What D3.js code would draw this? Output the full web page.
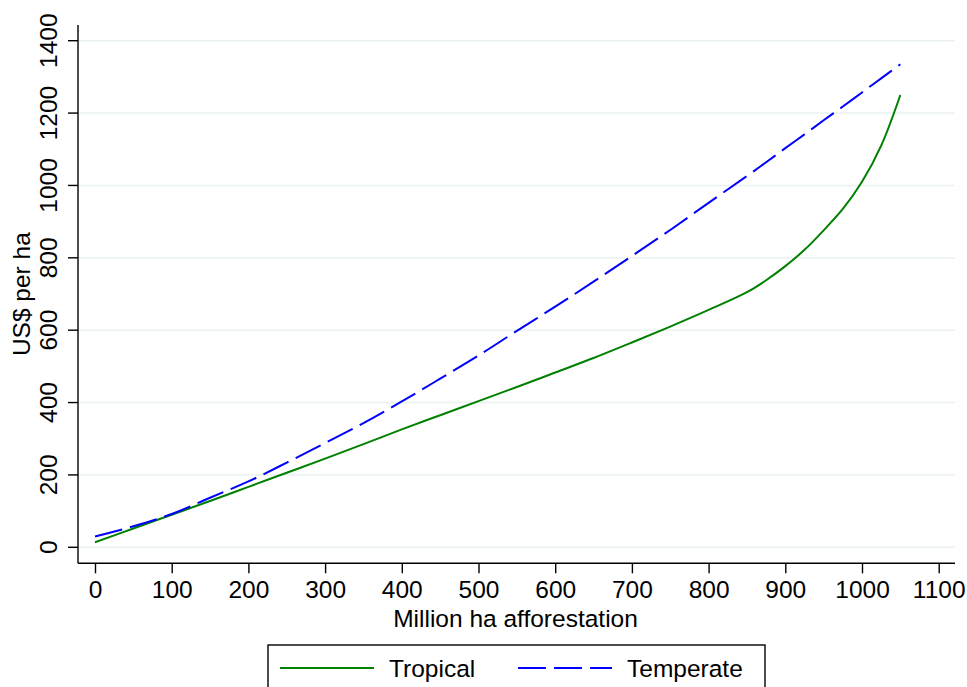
<!DOCTYPE html>
<html lang="en">
<head>
    <meta charset="UTF-8">
    <title>Afforestation cost curves</title>
    <script src="https://d3js.org/d3.v7.min.js"></script>
    <style>
        body { margin: 0; background: #fff; }
        text { font-family: "Liberation Sans", Arial, Helvetica, sans-serif; fill: #000; }
        .axis path { display: none; }
        .axis line { stroke: #000; stroke-width: 1.4; }
        .axis text { font-size: 24.5px; }
        .grid line { stroke: #eaf1f3; stroke-width: 1.6; }
    </style>
</head>
<body>
<script>
    // Data
    const hectares = [0, 50, 100, 150, 200, 250, 300, 350, 400, 450, 500, 550, 600, 650, 700, 750, 800, 850, 875, 900, 925, 950, 975, 1000, 1025, 1050];
    const tropical = [14, 52, 90, 128, 167, 206, 245, 285, 326, 365, 404, 443, 483, 523, 566, 610, 656, 705, 738, 777, 822, 876, 935, 1010, 1110, 1250];
    const temperate = [30, 58, 92, 137, 182, 234, 288, 343, 403, 466, 530, 598, 665, 734, 805, 877, 952, 1026, 1064, 1103, 1141, 1180, 1218, 1257, 1296, 1335];
    const xTicks = [0, 100, 200, 300, 400, 500, 600, 700, 800, 900, 1000, 1100];
    const yTicks = [0, 200, 400, 600, 800, 1000, 1200, 1400];

    const W = 967, H = 687;
    const plot = {left: 78, right: 955, top: 25, bottom: 563.3};

    const svg = d3.select("body").append("svg")
        .attr("width", W)
        .attr("height", H);

    const x = d3.scaleLinear().domain([0, 1100]).range([95, 938.7]);
    const y = d3.scaleLinear().domain([0, 1400]).range([547.3, 40.7]);

    // gridlines
    svg.append("g")
        .attr("class", "grid")
        .selectAll("line")
        .data(yTicks)
        .join("line")
        .attr("x1", plot.left)
        .attr("x2", plot.right)
        .attr("y1", d => y(d))
        .attr("y2", d => y(d));

    // axes
    const yAxis = svg.append("g")
        .attr("class", "axis")
        .attr("transform", `translate(${plot.left},0)`)
        .call(d3.axisLeft(y).tickValues(yTicks).tickSize(10).tickPadding(0).tickFormat(d3.format("d")));
    yAxis.selectAll("text")
        .attr("transform", d => `translate(-21,${y(d)}) rotate(-90)`)
        .attr("x", 0)
        .attr("y", 0)
        .attr("dy", 0)
        .attr("text-anchor", "middle");
    yAxis.selectAll(".tick").attr("transform", null);
    yAxis.selectAll(".tick line")
        .attr("y1", d => y(d)).attr("y2", d => y(d));

    svg.append("g")
        .attr("class", "axis")
        .attr("transform", `translate(0,${plot.bottom})`)
        .call(d3.axisBottom(x).tickValues(xTicks).tickSize(10).tickPadding(7).tickFormat(d3.format("d")));

    svg.append("line")
        .attr("x1", plot.left).attr("x2", plot.left)
        .attr("y1", plot.top).attr("y2", plot.bottom)
        .attr("stroke", "#000").attr("stroke-width", 1.4);
    svg.append("line")
        .attr("x1", plot.left).attr("x2", plot.right)
        .attr("y1", plot.bottom).attr("y2", plot.bottom)
        .attr("stroke", "#000").attr("stroke-width", 1.4);

    // axis titles
    svg.append("text")
        .attr("x", (plot.left + plot.right) / 2 - 1)
        .attr("y", 627)
        .attr("text-anchor", "middle")
        .style("font-size", "24.5px")
        .text("Million ha afforestation");

    svg.append("text")
        .attr("transform", `translate(30,${(plot.top + plot.bottom) / 2}) rotate(-90)`)
        .attr("text-anchor", "middle")
        .style("font-size", "24.5px")
        .text("US$ per ha");

    // lines
    const line = vals => d3.line()
        .x((d, i) => x(hectares[i]))
        .y(d => y(d))
        .curve(d3.curveCatmullRom)(vals);

    svg.append("path")
        .attr("d", line(tropical))
        .attr("fill", "none")
        .attr("stroke", "#008000")
        .attr("stroke-width", 2);

    svg.append("path")
        .attr("d", line(temperate))
        .attr("fill", "none")
        .attr("stroke", "#0000ff")
        .attr("stroke-width", 2)
        .attr("stroke-dasharray", "28,8");

    // legend
    const legend = svg.append("g");
    legend.append("rect")
        .attr("x", 268).attr("y", 645)
        .attr("width", 497).attr("height", 70)
        .attr("fill", "#fff").attr("stroke", "#000").attr("stroke-width", 1.4);

    const items = [
        {name: "Tropical", color: "#008000", dash: null, x0: 280, tx: 389},
        {name: "Temperate", color: "#0000ff", dash: "28,8", x0: 518, tx: 627}
    ];
    items.forEach(it => {
        legend.append("line")
            .attr("x1", it.x0).attr("x2", it.x0 + 94)
            .attr("y1", 668).attr("y2", 668)
            .attr("stroke", it.color).attr("stroke-width", 2)
            .attr("stroke-dasharray", it.dash);
        legend.append("text")
            .attr("x", it.tx).attr("y", 677)
            .style("font-size", "24.5px")
            .text(it.name);
    });
</script>
</body>
</html>
